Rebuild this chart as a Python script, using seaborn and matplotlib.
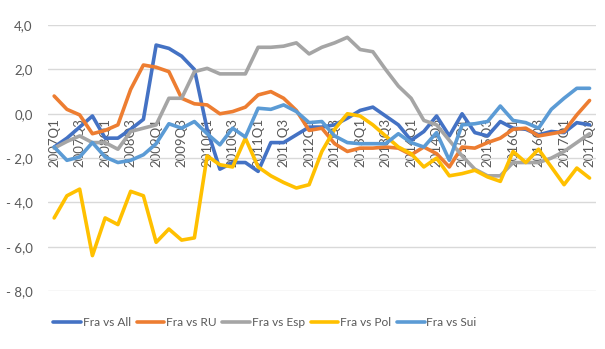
import matplotlib
matplotlib.use("Agg")
import matplotlib.pyplot as plt
import seaborn as sns
import pandas as pd

# Quarterly categories, 2007Q1 .. 2017Q3
quarters = [f"{y}Q{q}" for y in range(2007, 2018) for q in range(1, 5)][:43]

fra_vs_all = [-1.5, -1.1, -0.6, -0.1, -1.1, -1.1, -0.7, -0.25, 3.1, 2.95,
              2.6, 2.0, -0.7, -2.5, -2.2, -2.2, -2.6, -1.3, -1.3, -0.95,
              -0.6, -0.6, -0.5, -0.2, 0.15, 0.3, -0.1, -0.5, -1.2, -0.8,
              -0.1, -1.0, 0.0, -0.85, -1.0, -0.35, -0.65, -0.7, -0.95, -0.8,
              -0.85, -0.4, -0.5]
fra_vs_ru = [0.8, 0.2, -0.05, -0.9, -0.75, -0.5, 1.1, 2.2, 2.1, 1.9,
             0.7, 0.45, 0.4, 0.0, 0.1, 0.3, 0.85, 1.0, 0.7, 0.15,
             -0.75, -0.65, -1.35, -1.7, -1.55, -1.55, -1.5, -1.55, -1.85, -1.5,
             -1.8, -2.4, -1.5, -1.55, -1.3, -1.1, -0.7, -0.65, -1.0, -0.9,
             -0.8, -0.05, 0.6]
fra_vs_esp = [-1.55, -1.25, -1.0, -1.3, -1.3, -1.6, -0.8, -0.65, -0.5, 0.7,
              0.7, 1.9, 2.05, 1.8, 1.8, 1.8, 3.0, 3.0, 3.05, 3.2,
              2.7, 3.0, 3.2, 3.45, 2.9, 2.8, 2.0, 1.25, 0.7, -0.3,
              -0.5, -1.2, -1.9, -2.5, -2.8, -2.8, -2.2, -2.2, -2.2, -2.0,
              -1.7, -1.3, -0.9]
fra_vs_pol = [-4.7, -3.7, -3.4, -6.4, -4.7, -5.0, -3.5, -3.7, -5.8, -5.2,
              -5.7, -5.6, -1.9, -2.3, -2.4, -1.1, -2.4, -2.8, -3.1, -3.35,
              -3.2, -1.7, -0.7, 0.0, -0.1, -0.5, -1.0, -1.5, -1.8, -2.4,
              -2.0, -2.8, -2.7, -2.55, -2.85, -3.05, -1.7, -2.2, -1.6, -2.4,
              -3.2, -2.45, -2.9]
fra_vs_sui = [-1.5, -2.1, -1.95, -1.3, -1.95, -2.2, -2.1, -1.85, -1.35, -0.45,
              -0.65, -0.35, -0.9, -1.4, -0.65, -1.05, 0.25, 0.2, 0.4, 0.1,
              -0.4, -0.35, -1.0, -1.3, -1.35, -1.35, -1.35, -0.9, -1.3, -1.5,
              -0.85, -2.1, -0.5, -0.45, -0.35, 0.35, -0.3, -0.4, -0.65, 0.2,
              0.7, 1.15, 1.15]

series_names = ["Fra vs All", "Fra vs RU", "Fra vs Esp", "Fra vs Pol", "Fra vs Sui"]
series_values = [fra_vs_all, fra_vs_ru, fra_vs_esp, fra_vs_pol, fra_vs_sui]
colors = ["#4472C4", "#ED7D31", "#A5A5A5", "#FFC000", "#5B9BD5"]

y_ticks = [4, 2, 0, -2, -4, -6, -8]
y_tick_labels = ["4,0", "2,0", "0,0", "- 2,0", "- 4,0", "- 6,0", "- 8,0"]

rows = []
for name, vals in zip(series_names, series_values):
    for i, v in enumerate(vals):
        rows.append({"idx": i, "quarter": quarters[i], "value": v, "series": name})
df = pd.DataFrame(rows)

sns.set_theme(style="white")
plt.rcParams["font.family"] = ["Lato", "DejaVu Sans"]

fig = plt.figure(figsize=(6.05, 3.49), dpi=100)
ax = fig.add_axes([0.079, 0.166, 0.906, 0.762])

sns.lineplot(data=df, x="idx", y="value", hue="series", hue_order=series_names,
             palette=colors, linewidth=2.6, sort=False, ax=ax)

# Category axis crosses at zero; its labels sit just under the zero line
for side in ["top", "right", "left"]:
    ax.spines[side].set_visible(False)
ax.spines["bottom"].set_position(("data", 0))
ax.spines["bottom"].set_visible(False)

ax.set_xlim(-0.5, len(quarters) - 0.5)
ax.set_ylim(-8, 4)
ax.set_yticks(y_ticks)
ax.set_yticklabels(y_tick_labels)
ax.set_xticks(range(0, len(quarters), 2))
ax.set_xticklabels(quarters[::2])
for lbl in ax.get_xticklabels():
    lbl.set_rotation(90)
    lbl.set_va("top")
    lbl.set_ha("center")

ax.grid(axis="y", color="#D9D9D9", linewidth=1.0)
ax.grid(axis="x", visible=False)
ax.set_axisbelow(True)
ax.tick_params(axis="both", length=0, labelsize=9.5, colors="#595959")
ax.tick_params(axis="x", pad=3)
ax.tick_params(axis="y", pad=11)
ax.set_xlabel("")
ax.set_ylabel("")

handles, labels = ax.get_legend_handles_labels()
ax.legend(handles, labels, loc="center", bbox_to_anchor=(265 / 605, 1 - 323 / 349),
          bbox_transform=fig.transFigure, ncol=5, frameon=False,
          handlelength=2.3, handletextpad=0.15, columnspacing=0.5,
          prop={"size": 8.6}, labelcolor="#595959")

fig.savefig("out.png", dpi=100)
